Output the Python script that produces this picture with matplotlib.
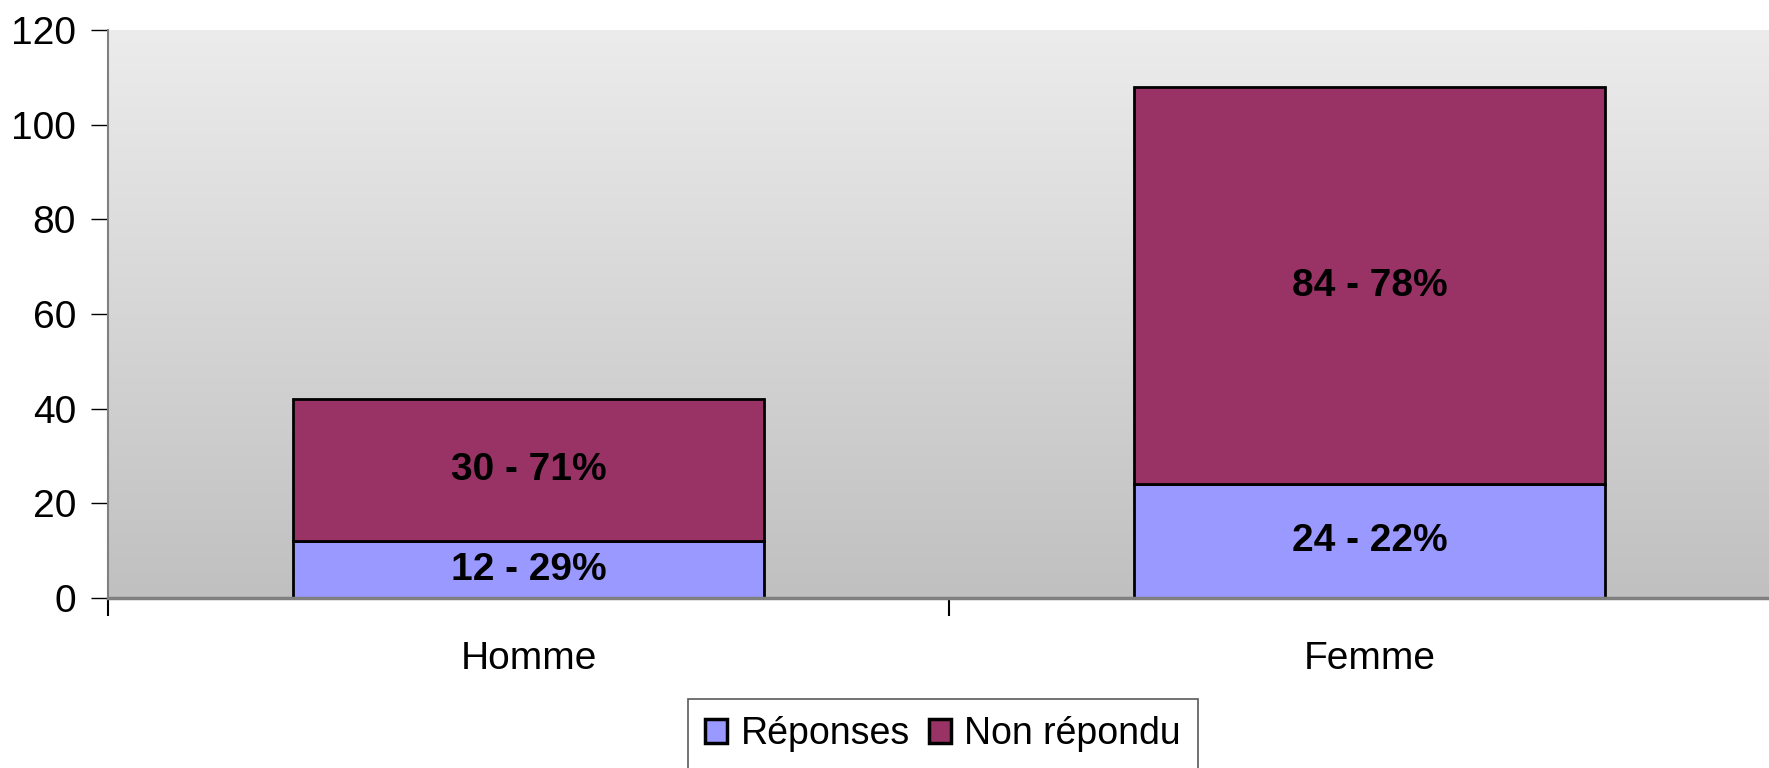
import numpy as np
import matplotlib
matplotlib.use("Agg")
import matplotlib.pyplot as plt
from matplotlib.patches import Patch
from matplotlib.colors import LinearSegmentedColormap

categories = ["Homme", "Femme"]
reponses = [12, 24]
non_repondu = [30, 84]
reponses_pct = [29, 22]
non_repondu_pct = [71, 78]
series_names = ["Réponses", "Non répondu"]
yticks = [0, 20, 40, 60, 80, 100, 120]

plt.rcParams['font.family'] = ['Liberation Sans', 'DejaVu Sans']
FS = 28

W, H = 1769, 768
fig = plt.figure(figsize=(W / 100, H / 100), dpi=100)
left, right, top, bottom = 108, 1790, 30, 598
ax = fig.add_axes([left / W, 1 - bottom / H, (right - left) / W, (bottom - top) / H])

# gradient background (light at top, darker at bottom)
grad = np.linspace(0, 1, 256).reshape(-1, 1)
cmap = LinearSegmentedColormap.from_list("bg", ["#ececec", "#c0c0c0"])
ax.imshow(grad, aspect='auto', cmap=cmap, extent=[-0.5, 1.5, 0, 120], origin='upper', zorder=0)

x = np.arange(len(categories))
w = 0.56
c1, c2 = "#9999ff", "#993366"
ax.bar(x, reponses, w, color=c1, edgecolor="black", linewidth=2, zorder=2)
ax.bar(x, non_repondu, w, bottom=reponses, color=c2, edgecolor="black", linewidth=2, zorder=2)

for i in range(len(categories)):
    ax.text(x[i], reponses[i] / 2, f"{reponses[i]} - {reponses_pct[i]}%", ha='center', va='center',
            fontsize=FS, fontweight='bold', zorder=3)
    ax.text(x[i], reponses[i] + non_repondu[i] / 2, f"{non_repondu[i]} - {non_repondu_pct[i]}%",
            ha='center', va='center', fontsize=FS, fontweight='bold', zorder=3)

ax.set_xlim(-0.5, 1.5)
ax.set_ylim(0, 120)
ax.set_yticks(yticks)
ax.set_yticklabels([str(v) for v in yticks], fontsize=FS)
ax.tick_params(axis='y', length=12, width=1, color='black', pad=11, direction='out')

ax.set_xticks([-0.5, 0.5, 1.5])
ax.set_xticklabels(["", "", ""])
ax.set_xticks(x, minor=True)
ax.set_xticklabels(categories, minor=True, fontsize=FS)
ax.tick_params(axis='x', which='major', length=13, width=1.5, color='black', direction='out')
ax.tick_params(axis='x', which='minor', length=0, pad=31)

for s in ['top', 'right']:
    ax.spines[s].set_visible(False)
ax.spines['left'].set_color('#808080')
ax.spines['left'].set_linewidth(1.5)
ax.spines['bottom'].set_color('#808080')
ax.spines['bottom'].set_linewidth(2.5)

handles = [Patch(facecolor=c1, edgecolor='black', linewidth=2.5),
           Patch(facecolor=c2, edgecolor='black', linewidth=2.5)]
leg = fig.legend(handles, series_names, loc='upper left', bbox_to_anchor=(688 / W, 1 - 699 / H),
                 ncol=2, fontsize=27, frameon=True, fancybox=False, edgecolor='#303030',
                 handlelength=0.6, handleheight=0.6, handletextpad=0.35, columnspacing=0.5,
                 borderpad=0.45, borderaxespad=0)
leg.get_frame().set_linewidth(1.2)

fig.savefig("out.png", dpi=100, facecolor='white')
